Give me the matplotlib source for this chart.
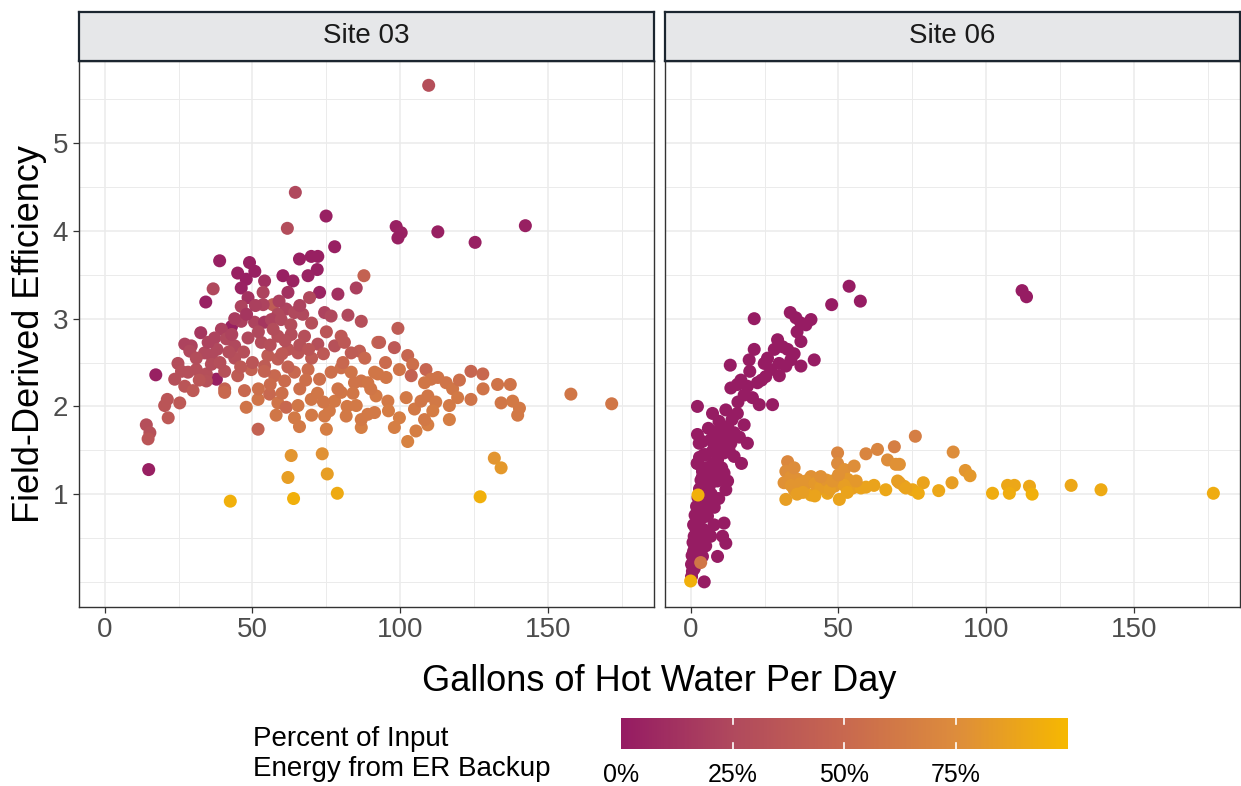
import matplotlib
matplotlib.use("Agg")
import matplotlib.pyplot as plt
from matplotlib.colors import LinearSegmentedColormap, Normalize
from matplotlib.cm import ScalarMappable

plt.rcParams['font.family'] = ['Liberation Sans', 'DejaVu Sans']

# ---- data: (gallons/day, efficiency, % energy from ER backup) ----
site03 = [
    (109.6, 5.66, 30), (64.5, 4.44, 25), (61.8, 4.03, 28), (74.9, 4.17, 3), (77.8, 3.82, 3),
    (98.6, 4.05, 3), (100.3, 3.98, 4), (99.2, 3.92, 3), (112.7, 3.99, 3), (125.3, 3.87, 3),
    (142.3, 4.06, 3), (38.9, 3.66, 3), (49, 3.64, 3), (45, 3.52, 3), (50.8, 3.54, 3),
    (47.9, 3.45, 3), (46.2, 3.35, 4), (60.3, 3.49, 3), (63.7, 3.43, 5), (65.9, 3.68, 3),
    (69.9, 3.71, 3), (72.1, 3.71, 3), (71.9, 3.56, 3), (68.8, 3.49, 4), (87.7, 3.49, 45),
    (85.1, 3.35, 20), (78.9, 3.28, 12), (72.7, 3.30, 5), (62, 3.30, 12), (54.1, 3.43, 12),
    (53.6, 3.30, 22), (36.7, 3.34, 25), (34.2, 3.19, 3), (48.5, 3.24, 12), (46.2, 3.14, 22),
    (56.9, 3.16, 40), (53.6, 3.16, 22), (69.3, 3.24, 25), (61.4, 3.11, 22), (58.6, 3.05, 25),
    (64.2, 3.07, 25), (74.4, 3.07, 22), (76.6, 3.03, 25), (82.3, 3.04, 25), (86.8, 2.97, 30),
    (92.4, 2.73, 48), (42.9, 2.91, 3), (39.5, 2.88, 20), (46.2, 2.97, 20), (50.7, 2.96, 22),
    (54.1, 2.96, 15), (56.4, 2.99, 22), (59.7, 2.99, 25), (32.5, 2.84, 15), (37.2, 2.78, 22),
    (41.2, 2.77, 25), (27.1, 2.71, 22), (29.3, 2.69, 22), (28.8, 2.63, 25), (33.8, 2.61, 25),
    (36.1, 2.58, 25), (44, 2.69, 25), (48.5, 2.78, 25), (53, 2.73, 28), (58.6, 2.80, 30),
    (63.1, 2.82, 28), (67.6, 2.80, 30), (72.1, 2.71, 30), (77.8, 2.69, 32), (81.1, 2.73, 38),
    (86.2, 2.63, 42), (62, 2.65, 35), (65.4, 2.61, 35), (55.2, 2.58, 40), (58.6, 2.54, 40),
    (24.8, 2.49, 28), (17.3, 2.36, 3), (37.8, 2.31, 3), (28.2, 2.39, 30), (31, 2.42, 30),
    (34.4, 2.37, 30), (36.1, 2.48, 28), (40.6, 2.40, 32), (23.7, 2.31, 30), (27.1, 2.23, 35),
    (29.9, 2.18, 38), (34.4, 2.29, 32), (40.6, 2.20, 45), (40.6, 2.16, 50), (47.3, 2.18, 50),
    (49.6, 2.42, 45), (54.1, 2.46, 40), (57.5, 2.35, 50), (60.9, 2.29, 52), (64.2, 2.39, 50),
    (68.8, 2.42, 52), (72.7, 2.31, 55), (76.6, 2.39, 55), (80, 2.44, 55), (83.4, 2.39, 58),
    (86.8, 2.29, 58), (91.3, 2.39, 60), (21.2, 2.08, 35), (20.3, 2.01, 35), (25.4, 2.04, 38),
    (21.5, 1.87, 38), (14.1, 1.79, 30), (15.3, 1.70, 32), (14.7, 1.63, 35), (14.9, 1.28, 3),
    (51.9, 1.74, 45), (47.9, 1.99, 58), (51.9, 2.08, 58), (55.8, 2.14, 50), (58.6, 2.04, 58),
    (61.4, 1.99, 50), (65.4, 2.01, 60), (69.9, 2.08, 60), (64.2, 1.87, 62), (65.9, 1.77, 62),
    (75, 1.74, 65), (74.4, 1.89, 62), (77.8, 2.06, 62), (80, 2.16, 60), (81.7, 1.89, 62),
    (85.1, 2.01, 62), (86.8, 1.76, 65), (89, 1.91, 62), (91.8, 2.12, 62), (63.1, 1.44, 80),
    (73.6, 1.46, 78), (62, 1.19, 85), (75.3, 1.23, 85), (63.9, 0.95, 95), (78.7, 1.01, 92),
    (42.5, 0.92, 95), (99.2, 2.89, 40), (98.0, 2.67, 38), (102.5, 2.58, 48), (104.2, 2.48, 55),
    (99.7, 2.42, 58), (103.7, 2.35, 45), (108.7, 2.42, 48), (110.4, 2.31, 58), (108.2, 2.27, 60),
    (112.7, 2.33, 58), (115.5, 2.27, 58), (117.7, 2.20, 60), (119.4, 2.10, 62), (116.6, 2.01, 62),
    (116.6, 1.85, 65), (123.9, 2.40, 48), (127.9, 2.37, 50), (123.9, 2.08, 58), (132.9, 2.25, 58),
    (137.2, 2.25, 58), (134.1, 2.04, 60), (138, 2.06, 62), (140.3, 1.98, 62), (139.7, 1.90, 62),
    (157.7, 2.14, 60), (171.5, 2.03, 60), (131.8, 1.41, 80), (134.1, 1.30, 82), (127, 0.97, 95),
    (102.5, 1.60, 68), (105.3, 1.72, 65), (109.3, 1.79, 65), (108.2, 1.85, 62), (98, 1.76, 65),
    (99.7, 1.87, 65), (102, 2.10, 62), (104.8, 1.97, 62), (107, 2.06, 60), (109.3, 2.12, 60),
    (92.4, 2.37, 60), (95.2, 2.33, 60), (89, 2.27, 60), (84.5, 2.27, 58), (78.9, 2.20, 58),
    (86.8, 1.85, 62), (91.3, 1.93, 62), (95.8, 2.06, 62), (83.4, 2.61, 40), (80, 2.80, 38),
    (80.6, 2.50, 50), (93.0, 2.73, 42), (44, 2.55, 30), (47, 2.62, 30), (50, 2.50, 35),
    (52, 2.85, 25), (56, 2.70, 30), (60, 2.60, 38), (66, 2.70, 32), (70, 2.55, 40),
    (74, 2.60, 38), (68, 2.30, 55), (62, 2.45, 45), (56, 2.25, 52), (45, 2.35, 40),
    (42, 2.62, 28), (38, 2.65, 25), (31, 2.55, 28), (52, 2.20, 55), (72, 2.15, 60),
    (76, 1.95, 62), (70, 1.90, 62), (58, 1.90, 60), (84, 2.15, 60), (88, 2.55, 50),
    (95, 2.50, 52), (67, 3.05, 25), (44, 3.00, 18), (51, 3.15, 20), (57, 2.88, 28),
    (63, 2.93, 28), (70, 2.95, 30), (75, 2.85, 35), (35, 2.73, 22), (26, 2.40, 30),
    (32, 2.30, 35), (90, 2.20, 60), (96, 1.95, 64), (112, 2.05, 62), (120, 2.30, 55),
    (128, 2.20, 58), (111, 1.95, 64), (48, 3.05, 15), (59, 3.20, 20), (66, 3.15, 22),
    (43, 2.82, 22), (61, 2.75, 30), (69, 2.65, 35), (54, 2.40, 45), (66, 2.20, 55),
    (74, 2.05, 60), (60, 2.15, 55), (82, 2.00, 62), (46, 2.45, 38), (39, 2.50, 30),
]

site06 = [
    (53.6, 3.37, 1), (57.4, 3.20, 1), (47.7, 3.16, 1), (21.5, 3.00, 1), (33.7, 3.07, 1),
    (35.6, 3.01, 1), (37.3, 2.95, 1), (39, 2.93, 1), (40.7, 2.99, 1), (41.8, 2.53, 1),
    (37.3, 2.74, 1), (37.3, 2.46, 1), (29.4, 2.76, 1), (31.1, 2.68, 1), (28.3, 2.65, 1),
    (32.8, 2.65, 1), (33.9, 2.53, 1), (32.2, 2.46, 1), (29.9, 2.49, 1), (24.9, 2.49, 1),
    (27.1, 2.42, 1), (21.5, 2.65, 1), (19.8, 2.53, 1), (13.4, 2.47, 1), (25.4, 2.34, 1),
    (22.6, 2.27, 1), (19.2, 2.23, 1), (15.8, 2.25, 1), (13.6, 2.21, 1), (18.1, 2.13, 1),
    (20.9, 2.10, 1), (23.2, 2.02, 1), (27.7, 2.02, 1), (2.3, 2.00, 1), (7.4, 1.92, 1),
    (11.9, 1.96, 1), (15.8, 1.92, 1), (9.6, 1.83, 1), (12.5, 1.77, 1), (18.1, 1.79, 1),
    (14.7, 1.70, 1), (2.3, 1.68, 1), (2.9, 1.58, 1), (6.8, 1.62, 1), (10.2, 1.58, 1),
    (13.6, 1.58, 1), (19.2, 1.58, 1), (7.4, 1.49, 1), (11.3, 1.47, 1), (14.7, 1.43, 1),
    (9.1, 1.39, 1), (2.3, 1.35, 1), (17.2, 1.35, 1), (7.4, 1.26, 1), (11.3, 1.24, 1),
    (12.5, 1.15, 1), (11.9, 1.05, 1), (6.3, 1.09, 1), (5.1, 0.94, 1), (3.4, 0.82, 1),
    (5.7, 0.75, 1), (2.3, 0.71, 1), (7.9, 0.65, 1), (11.3, 0.67, 1), (10.8, 0.52, 1),
    (11.9, 0.44, 1), (6.8, 0.52, 1), (3.4, 0.56, 1), (2.3, 0.44, 1), (5.1, 0.41, 1),
    (1.7, 0.33, 1), (4.0, 0.29, 1), (1.2, 0.24, 1), (9.1, 0.29, 1), (0.3, 0.06, 1),
    (4.6, 0.0, 1), (112.1, 3.32, 1), (113.6, 3.25, 1), (10, 1.75, 1), (12, 1.65, 1),
    (14, 1.85, 1), (16, 2.05, 1), (24, 2.30, 1), (26, 2.55, 1), (30, 2.35, 1),
    (35, 2.60, 1), (36, 2.85, 1), (8, 1.55, 1), (5, 1.45, 1), (4, 1.20, 1),
    (9, 1.15, 1), (5.5, 1.30, 1), (8.5, 1.70, 1), (3.5, 1.05, 1), (20, 2.40, 1),
    (17, 2.30, 1), (0.5, 0.30, 1), (1.0, 0.35, 1), (1.5, 0.40, 1), (0.8, 0.45, 1),
    (2.0, 0.48, 1), (1.2, 0.52, 1), (2.5, 0.55, 1), (1.8, 0.60, 1), (3.0, 0.62, 1),
    (1.0, 0.65, 1), (2.2, 0.70, 1), (3.5, 0.72, 1), (1.5, 0.76, 1), (2.8, 0.80, 1),
    (4.0, 0.82, 1), (2.0, 0.86, 1), (3.2, 0.90, 1), (4.5, 0.92, 1), (2.5, 0.96, 1),
    (3.8, 1.00, 1), (5.0, 1.02, 1), (3.0, 1.06, 1), (4.2, 1.10, 1), (5.5, 1.12, 1),
    (3.5, 1.16, 1), (4.8, 1.20, 1), (6.0, 1.22, 1), (4.0, 1.26, 1), (5.2, 1.30, 1),
    (2.2, 1.35, 1), (3.0, 1.42, 1), (4.5, 1.45, 1), (1.5, 0.25, 1), (2.8, 0.38, 1),
    (3.6, 0.50, 1), (0.3, 0.20, 1), (1.2, 0.15, 1), (4.2, 0.60, 1), (5.0, 0.75, 1),
    (5.5, 0.88, 1), (6.5, 0.95, 1), (7.0, 1.00, 1), (6.2, 0.55, 1), (0.6, 0.12, 1),
    (8.0, 0.85, 1), (9.5, 0.95, 1), (7.5, 1.35, 1), (10.5, 1.30, 1), (13.0, 1.50, 1),
    (16.5, 1.65, 1), (6.0, 1.75, 1), (4.0, 1.60, 1),
    (3.4, 0.22, 60), (0.0, 0.01, 95), (2.5, 0.99, 95),
    (32.8, 1.37, 72), (32.2, 1.26, 75), (31.6, 1.13, 78), (32.2, 0.94, 85), (33.9, 1.20, 78),
    (36.2, 1.17, 78), (38.4, 1.09, 80), (40.7, 1.20, 78), (40.7, 0.99, 88), (42.9, 1.05, 82),
    (45.2, 1.13, 80), (46.3, 1.01, 88), (49.7, 1.47, 70), (49.7, 1.35, 74), (52, 1.28, 78),
    (50.3, 1.18, 80), (48.6, 1.09, 82), (53.1, 1.17, 82), (55.3, 1.32, 76), (54.8, 1.07, 85),
    (50.3, 0.94, 88), (57.6, 1.07, 88), (59.3, 1.08, 88), (59.3, 1.46, 70), (63.2, 1.51, 70),
    (68.9, 1.54, 65), (66.6, 1.39, 75), (69.4, 1.34, 78), (66, 1.05, 90), (70, 1.15, 85),
    (72.2, 1.09, 88), (76, 1.66, 65), (75.1, 1.05, 90), (88.8, 1.48, 75), (92.9, 1.27, 80),
    (94.5, 1.21, 82), (70.6, 1.34, 78), (70.6, 1.13, 85), (72.8, 1.07, 88), (78.7, 1.13, 88),
    (77, 1.01, 92), (83.9, 1.04, 90), (88.4, 1.13, 85), (102.1, 1.01, 93), (107.2, 1.10, 90),
    (109.5, 1.10, 90), (107.8, 1.01, 93), (114.6, 1.09, 90), (115.5, 1.00, 95), (128.7, 1.10, 90),
    (138.8, 1.05, 92), (176.8, 1.01, 93), (35, 1.05, 82), (37, 1.12, 80), (39, 1.15, 80),
    (42, 1.12, 82), (44, 1.08, 84), (46, 1.16, 80), (47, 1.05, 85), (34, 1.10, 80),
    (36, 1.00, 85), (52, 1.10, 85), (56, 1.15, 82), (44, 1.20, 78), (38, 1.02, 85),
    (42, 0.98, 88), (48, 1.15, 80), (53, 1.02, 88), (50, 1.22, 78), (35, 1.30, 75),
    (62, 1.10, 88),
]

panels = ["Site 03", "Site 06"]
x_ticks = [0, 50, 100, 150]
y_ticks = [1, 2, 3, 4, 5]
pct_ticks = [0, 25, 50, 75]
pct_labels = ["0%", "25%", "50%", "75%"]

cmap = LinearSegmentedColormap.from_list(
    "er", ["#951B63", "#B0495D", "#C8684F", "#DD8C3C", "#F6B800"])
norm = Normalize(0, 100)

W, H = 1241, 786
fig = plt.figure(figsize=(W / 100, H / 100), dpi=100)


def fx(px):
    return px / W


def fy(py):
    return 1 - py / H


# shared scales with 5% padding, like facet_wrap
all_x = [p[0] for p in site03 + site06]
all_y = [p[1] for p in site03 + site06]
xr = max(all_x) - min(all_x)
yr = max(all_y) - min(all_y)
xlim = (min(all_x) - 0.05 * xr, max(all_x) + 0.05 * xr)
ylim = (min(all_y) - 0.05 * yr, max(all_y) + 0.05 * yr)

top, bottom = 60.5, 606.7
lefts = [78.5, 664.5]
pw = 575
for i, (name, data) in enumerate(zip(panels, [site03, site06])):
    ax = fig.add_axes([fx(lefts[i]), fy(bottom), fx(pw), (bottom - top) / H])
    xs = [p[0] for p in data]
    ys = [p[1] for p in data]
    cs = [p[2] for p in data]
    ax.scatter(xs, ys, c=cs, cmap=cmap, norm=norm, s=88, linewidths=0, zorder=3)
    ax.set_xlim(xlim)
    ax.set_ylim(ylim)
    ax.set_xticks(x_ticks)
    ax.set_xticks([25, 75, 125, 175], minor=True)
    ax.set_yticks(y_ticks)
    ax.set_yticks([0, 0.5, 1.5, 2.5, 3.5, 4.5, 5.5], minor=True)
    ax.grid(which='major', color='#EBEBEB', lw=1.1)
    ax.grid(which='minor', color='#EBEBEB', lw=0.7)
    ax.set_axisbelow(True)
    for sp in ax.spines.values():
        sp.set_color('#333333')
        sp.set_linewidth(1.0)
    ax.tick_params(which='minor', length=0)
    ax.tick_params(which='major', length=4.5, width=0.9, color='#333333',
                   labelsize=20, labelcolor='#4D4D4D', pad=3)
    if i == 1:
        ax.tick_params(axis='y', left=False, labelleft=False)

    # strip
    sax = fig.add_axes([fx(lefts[i]), fy(top), fx(pw), (top - 12) / H])
    sax.set_facecolor('#E6E7E9')
    sax.set_xticks([])
    sax.set_yticks([])
    for sp in sax.spines.values():
        sp.set_color('#1C2630')
        sp.set_linewidth(1.6)
    sax.text(0.5, 0.5, name, ha='center', va='center', fontsize=20,
             color='#1A1A1A', transform=sax.transAxes)

fig.text(fx(659), fy(691), "Gallons of Hot Water Per Day", ha='center',
         va='baseline', fontsize=26, color='black')
fig.text(fx(30), fy(333.6), "Field-Derived Efficiency", ha='center',
         va='center', rotation=90, fontsize=26, color='black')

# legend
fig.text(fx(253), fy(754), "Percent of Input\nEnergy from ER Backup",
         ha='left', va='center', fontsize=20, linespacing=1.15, color='black')
cax = fig.add_axes([fx(620.7), fy(749), fx(1068 - 620.7), 31 / H])
sm = ScalarMappable(norm=norm, cmap=cmap)
cb = fig.colorbar(sm, cax=cax, orientation='horizontal')
cb.outline.set_visible(False)
cb.set_ticks(pct_ticks)
cb.set_ticklabels(pct_labels)
cax.tick_params(length=0, labelsize=18, labelcolor='black', pad=10)
for t in pct_ticks[1:]:
    cax.plot([t, t], [0, 0.2], color='white', lw=1.2)
    cax.plot([t, t], [0.8, 1], color='white', lw=1.2)
cax.set_ylim(0, 1)

fig.savefig("out.png", dpi=100)
